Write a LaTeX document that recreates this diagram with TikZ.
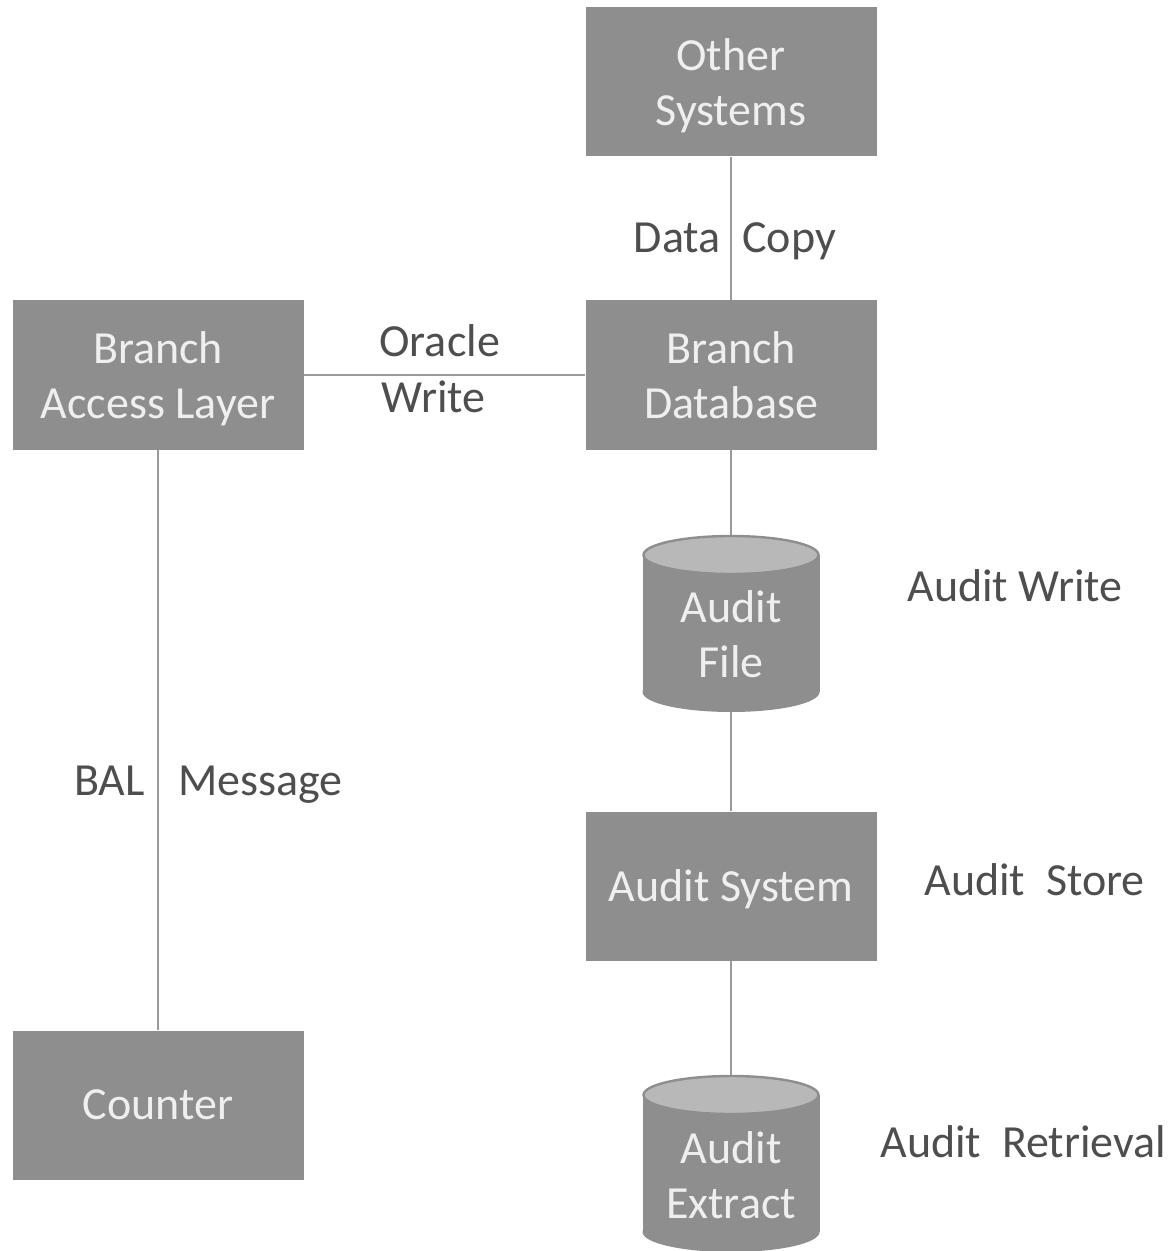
\documentclass[tikz,border=0pt]{standalone}
\usepackage{fontspec}
\setmainfont{Carlito}
\definecolor{boxfill}{HTML}{8E8E8E}
\definecolor{boxtext}{HTML}{EFEFEF}
\definecolor{drumtop}{HTML}{B8B8B8}
\definecolor{linecol}{HTML}{9A9A9A}
\definecolor{lblcol}{HTML}{4E4E4E}
\pgfdeclarelayer{links}
\pgfdeclarelayer{shapes}
\pgfsetlayers{links,shapes,main}
\begin{document}
\begin{tikzpicture}[x=0.5pt,y=-0.5pt,
  txt/.style={font=\fontsize{23}{27.5}\selectfont},
  block/.style={txt, rectangle, fill=boxfill, text=boxtext, text depth=0pt,
    minimum width=145.5pt, minimum height=74.5pt, inner sep=0pt, align=center},
  drum/.style={txt, rectangle, text=boxtext, text depth=0pt, minimum width=88.5pt,
    minimum height=60pt, inner sep=0pt, align=center},
  link/.style={draw=linecol, line width=1pt},
  lbl/.style={txt, text=lblcol, inner sep=0pt}]
\path[use as bounding box] (0,0) rectangle (1169,1251);

% rectangular blocks
\node[block] (other)   at (731,82)   {Other\\Systems};
\node[block] (bal)     at (158,375)  {Branch\\Access Layer};
\node[block] (bdb)     at (731,375)  {Branch\\Database};
\node[block] (asys)    at (731,886)  {Audit System};
\node[block] (counter) at (158,1105) {Counter};

% cylinder stores (text part)
\node[drum] (afile)    at (731,634)  {Audit\\File};
\node[drum] (aextract) at (731,1175) {Audit\\Extract};

% cylinder bodies
\begin{pgfonlayer}{shapes}
  \fill[boxfill] (643,555) rectangle (820,692);
  \fill[boxfill] (731,692) ellipse [x radius=88.5, y radius=20];
  \filldraw[fill=drumtop, draw=boxfill, line width=1.2pt] (731,555) ellipse [x radius=87.5, y radius=19];
  \fill[boxfill] (643,1095) rectangle (820,1232);
  \fill[boxfill] (731,1232) ellipse [x radius=88.5, y radius=20];
  \filldraw[fill=drumtop, draw=boxfill, line width=1.2pt] (731,1095) ellipse [x radius=87.5, y radius=19];
\end{pgfonlayer}

% connectors
\begin{pgfonlayer}{links}
  \draw[link] (other) -- (bdb);
  \draw[link] (bal) -- (bdb);
  \draw[link] (bdb) -- (afile.center);
  \draw[link] (afile.center) -- (asys);
  \draw[link] (asys) -- (aextract.center);
  \draw[link] (bal) -- (counter);
\end{pgfonlayer}

% connector labels
\node[lbl, anchor=base east] (lData) at (721,253) {Data};
\node[lbl, anchor=base west] (lCopy) at (742,253) {Copy};
\node[lbl, anchor=base west] (lOracle) at (379,357) {Oracle};
\node[lbl, anchor=base west] (lWrite) at (381,412) {Write};
\node[lbl, anchor=base east] (lBal) at (145,795) {BAL};
\node[lbl, anchor=base west] (lMsg) at (178,795) {Message};
\node[lbl, anchor=base west] (lAW) at (907,601) {Audit Write};
\node[lbl, anchor=base west] (lAS) at (924,895) {Audit\ \ Store};
\node[lbl, anchor=base west] (lAR) at (880,1157) {Audit\ \ Retrieval};
\end{tikzpicture}
\end{document}
